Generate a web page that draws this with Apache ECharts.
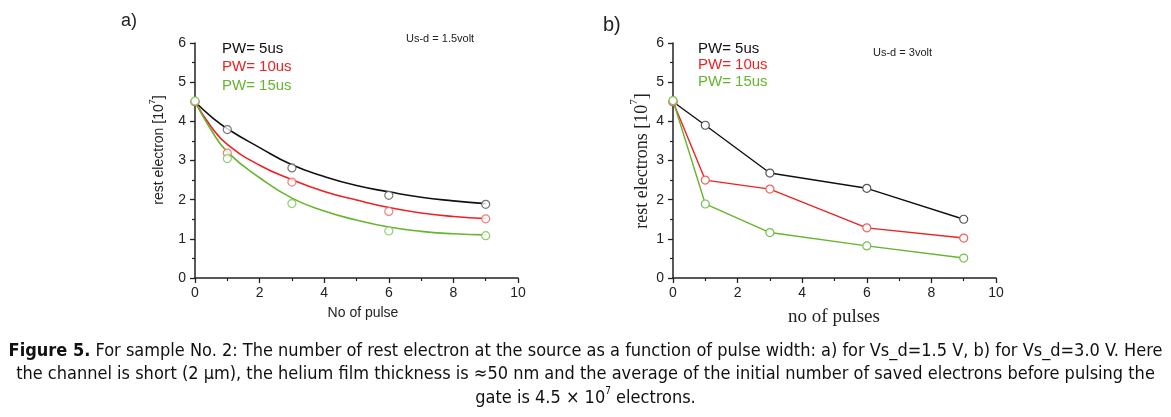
<!DOCTYPE html>
<html>
<head>
<meta charset="utf-8">
<script src="https://cdn.jsdelivr.net/npm/echarts@6/dist/echarts.min.js"></script>
<style>html,body{margin:0;padding:0;background:#fff;}#c{width:1171px;height:417px;}</style>
</head>
<body>
<div id="c"></div>
<script>
// ---- data ----
const pulseX = [0, 1, 3, 6, 9];
// panel a measured points
const aBlackPts = [4.50, 3.79, 2.81, 2.11, 1.88];
const aRedPts   = [4.50, 3.19, 2.45, 1.70, 1.51];
const aGreenPts = [4.52, 3.05, 1.90, 1.20, 1.08];
// panel a fitted curves
const fitX      = [0, 0.5, 1, 2, 3, 4, 5, 6, 7, 8, 9];
const aBlackFit = [4.50, 4.12, 3.81, 3.33, 2.89, 2.59, 2.36, 2.20, 2.06, 1.97, 1.90];
const aRedFit   = [4.50, 3.86, 3.41, 2.88, 2.51, 2.21, 1.99, 1.80, 1.66, 1.57, 1.52];
const aGreenFit = [4.50, 3.78, 3.22, 2.56, 2.04, 1.71, 1.48, 1.30, 1.19, 1.13, 1.10];
// panel b
const bBlack = [4.50, 3.90, 2.68, 2.29, 1.50];
const bRed   = [4.50, 2.50, 2.27, 1.28, 1.02];
const bGreen = [4.53, 1.89, 1.16, 0.82, 0.51];
const legendLabels = ['PW= 5us', 'PW= 10us', 'PW= 15us'];
const xTicks = [0, 2, 4, 6, 8, 10];
const yTicks = [0, 1, 2, 3, 4, 5, 6];

const BLACK = '#111111', RED = '#ee2222', GREEN = '#66b52f';
const MK = {black: '#555555', red: '#f06060', green: '#77c050'};

function zip(xs, ys){ return xs.map((x,i)=>[x, ys[i]]); }

const chart = echarts.init(document.getElementById('c'), null, {renderer:'canvas'});

function xAxisOf(gi){
  return {
    type:'value', gridIndex:gi, min:xTicks[0], max:xTicks[xTicks.length-1], interval:2,
    axisLine:{show:true, onZero:false, lineStyle:{color:'#222', width:1.5}},
    axisTick:{show:true, length:5, inside:false, lineStyle:{color:'#222', width:1.3}},
    minorTick:{show:true, splitNumber:2, length:3, lineStyle:{color:'#222', width:1.2}},
    axisLabel:{color:'#222', fontSize:14, fontFamily:'Liberation Sans, Arial', margin:8},
    splitLine:{show:false}
  };
}
function yAxisOf(gi){
  return {
    type:'value', gridIndex:gi, min:yTicks[0], max:yTicks[yTicks.length-1], interval:1,
    axisLine:{show:true, onZero:false, lineStyle:{color:'#222', width:1.5}},
    axisTick:{show:true, length:5, inside:false, lineStyle:{color:'#222', width:1.3}},
    minorTick:{show:true, splitNumber:2, length:3, lineStyle:{color:'#222', width:1.2}},
    axisLabel:{color:'#222', fontSize:14, fontFamily:'Liberation Sans, Arial', margin:9},
    splitLine:{show:false}
  };
}
function pts(gi, data, mk){
  return {type:'scatter', xAxisIndex:gi, yAxisIndex:gi, data:data, symbol:'circle', symbolSize:8,
    itemStyle:{color:'#fff', borderColor:mk, borderWidth:1.2}, z:5, silent:true};
}
function fit(gi, data, col){
  return {type:'line', xAxisIndex:gi, yAxisIndex:gi, data:data, smooth:0.5, showSymbol:false, symbol:'none',
    lineStyle:{color:col, width:1.6}, z:3, silent:true};
}
function seg(gi, data, col, mk){
  return {type:'line', xAxisIndex:gi, yAxisIndex:gi, data:data, smooth:false, showSymbol:true, symbol:'circle', symbolSize:8,
    lineStyle:{color:col, width:1.4}, itemStyle:{color:'#fff', borderColor:mk, borderWidth:1.2}, z:3, silent:true};
}

const sansF = 'Liberation Sans, Arial, sans-serif';
const serifF = 'Liberation Serif, Times New Roman, serif';
const capF = '"Liberation Sans Narrow", "DejaVu Sans Condensed", "Open Sans", sans-serif';

function txt(x, y, text, size, color, extra){
  return {type:'text', x:x, y:y, silent:true,
    style:Object.assign({text:text, fontSize:size, fill:color, fontFamily:sansF, textVerticalAlign:'middle'}, extra||{})};
}

const graphics = [
  txt(121, 21, 'a)', 18, '#222'),
  txt(603, 25, 'b)', 20, '#222'),
  txt(222, 49, legendLabels[0], 15, BLACK),
  txt(222, 67, legendLabels[1], 15, RED),
  txt(222, 85.5, legendLabels[2], 15, GREEN),
  txt(698, 48.5, legendLabels[0], 15, BLACK),
  txt(698, 65, legendLabels[1], 15, RED),
  txt(698, 82, legendLabels[2], 15, GREEN),
  txt(406, 39, 'Us-d = 1.5volt', 11, '#222'),
  txt(873, 52.5, 'Us-d = 3volt', 11, '#222'),
  txt(363, 313, 'No of pulse', 14, '#222', {textAlign:'center'}),
  txt(834, 317, 'no of pulses', 19, '#222', {textAlign:'center', fontFamily:serifF}),
  {type:'text', x:157, y:150, rotation:Math.PI/2, silent:true,
    style:{text:'{n|rest electron [10}{s|7}{n|]}', textAlign:'center', textVerticalAlign:'middle',
      rich:{n:{fontSize:14, fontFamily:sansF, fill:'#222', lineHeight:18, verticalAlign:'bottom'},
            s:{fontSize:9, fontFamily:sansF, fill:'#222', lineHeight:18, verticalAlign:'top'}}}},
  {type:'text', x:640, y:161, rotation:Math.PI/2, silent:true,
    style:{text:'{n|rest electrons [10}{s|7}{n|]}', textAlign:'center', textVerticalAlign:'middle',
      rich:{n:{fontSize:18, fontFamily:serifF, fill:'#222', lineHeight:22, verticalAlign:'bottom'},
            s:{fontSize:11, fontFamily:serifF, fill:'#222', lineHeight:22, verticalAlign:'top'}}}},
  {type:'text', x:585.5, y:351, silent:true,
    style:{text:'{b|Figure 5.}{r| For sample No. 2: The number of rest electron at the source as a function of pulse width: a) for Vs_d=1.5 V, b) for Vs_d=3.0 V. Here}',
      textAlign:'center', textVerticalAlign:'middle',
      rich:{b:{fontSize:18, fontWeight:'bold', fontFamily:capF, fill:'#111'}, r:{fontSize:18, fontFamily:capF, fill:'#111'}}}},
  {type:'text', x:585.5, y:374, silent:true,
    style:{text:'the channel is short (2 μm), the helium film thickness is ≈50 nm and the average of the initial number of saved electrons before pulsing the',
      textAlign:'center', textVerticalAlign:'middle', fontSize:18, fontFamily:capF, fill:'#111'}},
  {type:'text', x:585.5, y:397, silent:true,
    style:{text:'{r|gate is 4.5 × 10}{s|7}{r| electrons.}', textAlign:'center', textVerticalAlign:'middle',
      rich:{r:{fontSize:18, fontFamily:capF, fill:'#111', lineHeight:21, verticalAlign:'bottom'},
            s:{fontSize:10, fontFamily:capF, fill:'#111', lineHeight:21, verticalAlign:'top'}}}}
];

chart.setOption({
  animation:false,
  backgroundColor:'#fff',
  grid:[
    {left:195, top:43, width:323, height:235},
    {left:673, top:43, width:323, height:235}
  ],
  xAxis:[xAxisOf(0), xAxisOf(1)],
  yAxis:[yAxisOf(0), yAxisOf(1)],
  series:[
    fit(0, zip(fitX, aBlackFit), BLACK),
    fit(0, zip(fitX, aRedFit), RED),
    fit(0, zip(fitX, aGreenFit), GREEN),
    pts(0, zip(pulseX, aBlackPts), MK.black),
    pts(0, zip(pulseX, aRedPts), MK.red),
    pts(0, zip(pulseX, aGreenPts), MK.green),
    seg(1, zip(pulseX, bBlack), BLACK, MK.black),
    seg(1, zip(pulseX, bRed), RED, MK.red),
    seg(1, zip(pulseX, bGreen), GREEN, MK.green)
  ],
  graphic:graphics
});
</script>
</body>
</html>
